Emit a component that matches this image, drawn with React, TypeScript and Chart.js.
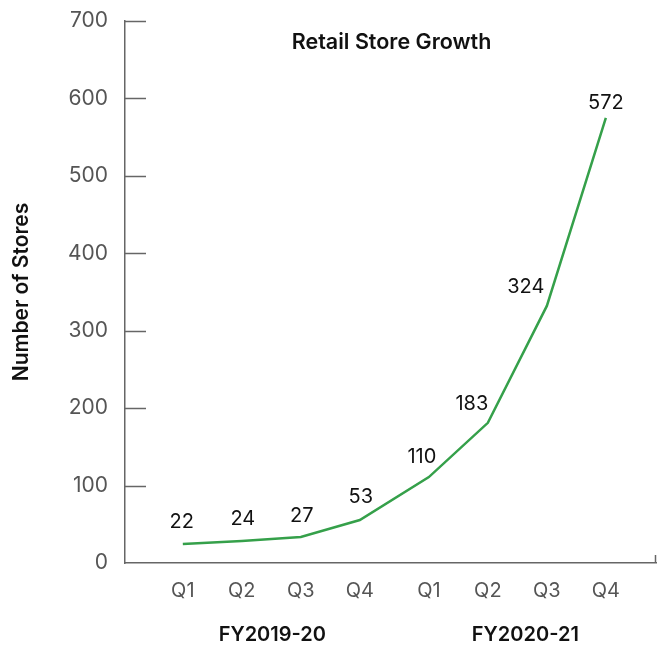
import React, { useEffect, useRef } from "react";
import { Chart, registerables } from "chart.js";

Chart.register(...registerables);

// ---- data ----
const quarters = ["Q1", "Q2", "Q3", "Q4", "Q1", "Q2", "Q3", "Q4"];
const quarterX = [0, 1, 2, 3, 4.17, 5.17, 6.17, 7.17];
const fiscalYears = ["FY2019-20", "FY2020-21"];
const fiscalYearQuarters = [
  [0, 1, 2, 3],
  [4, 5, 6, 7],
];
const lineValues = [24.5, 28.5, 33.5, 55.5, 111, 181, 332, 575];
const valueLabels = ["22", "24", "27", "53", "110", "183", "324", "572"];
const yTickValues = [0, 100, 200, 300, 400, 500, 600, 700];
const chartTitle = "Retail Store Growth";
const yAxisTitle = "Number of Stores";

const FONT = "Inter, 'Noto Sans', sans-serif";
const AXIS_COLOR = "#666666";

const decorPlugin = {
  id: "decor",
  afterDraw(chart: any) {
    const { ctx, chartArea } = chart;
    const x = chart.scales.x;
    const y = chart.scales.y;
    ctx.save();
    // inner tick marks on y axis
    ctx.strokeStyle = AXIS_COLOR;
    ctx.lineWidth = 1.5;
    yTickValues.forEach((v) => {
      if (v === 0) return;
      const py = Math.round(y.getPixelForValue(v)) + 0.5;
      ctx.beginPath();
      ctx.moveTo(chartArea.left, py);
      ctx.lineTo(chartArea.left + 21, py);
      ctx.stroke();
    });
    // end tick on x axis
    ctx.beginPath();
    ctx.moveTo(chartArea.right - 0.5, chartArea.bottom);
    ctx.lineTo(chartArea.right - 0.5, chartArea.bottom - 8);
    ctx.stroke();

    // value labels
    const offsets = [
      [-1, -22], [1, -22], [1, -21], [1, -23],
      [-7, -20], [-16, -19], [-21, -19], [0, -15],
    ];
    ctx.fillStyle = "#111111";
    ctx.font = `400 20px ${FONT}`;
    ctx.textAlign = "center";
    ctx.textBaseline = "middle";
    valueLabels.forEach((t, i) => {
      const px = x.getPixelForValue(quarterX[i]);
      const py = y.getPixelForValue(lineValues[i]);
      ctx.fillText(t, px + offsets[i][0], py + offsets[i][1]);
    });

    // fiscal-year group labels
    const groupShift = [1, 8];
    ctx.font = `600 20px ${FONT}`;
    fiscalYears.forEach((fy, g) => {
      const idx = fiscalYearQuarters[g];
      const cx =
        idx.reduce((s, i) => s + x.getPixelForValue(quarterX[i]), 0) / idx.length;
      ctx.fillText(fy, cx + groupShift[g], 635);
    });

    // title inside chart area
    ctx.font = `600 21.5px ${FONT}`;
    ctx.fillText(chartTitle, (chartArea.left + chartArea.right) / 2 + 1, 43);
    ctx.restore();
  },
};

export default function App() {
  const ref = useRef<HTMLCanvasElement | null>(null);
  useEffect(() => {
    if (!ref.current) return;
    const chart = new Chart(ref.current, {
      type: "line",
      data: {
        datasets: [
          {
            data: quarterX.map((q, i) => ({ x: q, y: lineValues[i] })),
            borderColor: "#35a04a",
            borderWidth: 2.5,
            pointRadius: 0,
            tension: 0,
            fill: false,
          },
        ],
      },
      options: {
        animation: false,
        responsive: false,
        layout: { padding: { top: 21, right: 1, left: 0, bottom: 0 } },
        plugins: {
          legend: { display: false },
          tooltip: { enabled: false },
          title: { display: false },
        },
        scales: {
          x: {
            type: "linear",
            min: -0.98,
            max: 8.02,
            grid: { display: false, drawTicks: false },
            border: { display: true, color: AXIS_COLOR, width: 1.5 },
            afterBuildTicks: (s: any) => {
              s.ticks = quarterX.map((v) => ({ value: v }));
            },
            afterFit: (s: any) => {
              s.height = 83;
              s.paddingLeft = 0;
              s.paddingRight = 0;
            },
            ticks: {
              autoSkip: false,
              maxRotation: 0,
              padding: 16,
              color: "#555555",
              font: { family: FONT, size: 20 },
              callback: (_v: any, i: number) => quarters[i],
            },
          },
          y: {
            min: 0,
            max: 700,
            grid: { display: false, drawTicks: false },
            border: { display: true, color: AXIS_COLOR, width: 1.5 },
            afterBuildTicks: (s: any) => {
              s.ticks = yTickValues.map((v) => ({ value: v }));
            },
            afterFit: (s: any) => {
              s.width = 125;
              s.paddingTop = 0;
              s.paddingBottom = 0;
            },
            ticks: {
              padding: 17,
              color: "#555555",
              font: { family: FONT, size: 21 },
            },
            title: {
              display: true,
              text: yAxisTitle,
              color: "#111111",
              padding: { top: 9, bottom: 0 },
              font: { family: FONT, size: 21, weight: "600" },
            },
          },
        },
      },
      plugins: [decorPlugin],
    });
    return () => chart.destroy();
  }, []);
  return (
    <div style={{ position: "fixed", left: 0, top: 0, width: 657, height: 646, background: "#fff" }}>
      <canvas ref={ref} width={657} height={646} style={{ width: 657, height: 646, display: "block" }} />
    </div>
  );
}
